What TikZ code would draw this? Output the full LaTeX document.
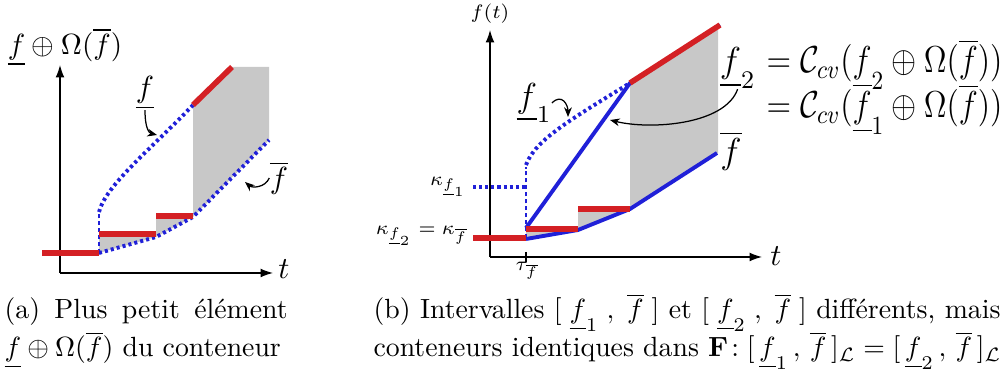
\RequirePackage{fix-cm}
\documentclass[tikz,border=0pt]{standalone}
\usepackage{amsmath,amssymb}
\usetikzlibrary{arrows.meta}
\definecolor{cred}{RGB}{212,32,36}
\definecolor{cblue}{RGB}{32,32,216}
\definecolor{cgray}{RGB}{200,200,200}
\tikzset{
 axis/.style={line width=0.45pt,-{Latex[length=4.5pt,width=3.2pt]}},
 redseg/.style={cred,line width=2pt},
 bluesolid/.style={cblue,line width=1.4pt},
 bluedot/.style={cblue,line width=1.4pt,dash pattern=on 1.1pt off 1.1pt},
 bluedash/.style={cblue,line width=0.9pt,dash pattern=on 1.6pt off 0.9pt},
 pointer/.style={line width=0.45pt,-{Stealth[length=3.5pt,width=2.8pt]}},
 bigl/.style={font=\fontsize{13}{16}\selectfont,inner sep=0pt},
 eql/.style={font=\fontsize{13.5}{16}\selectfont,inner sep=0pt,anchor=base west},
 midl/.style={font=\fontsize{11}{13}\selectfont,inner sep=0pt},
 smalll/.style={font=\fontsize{7}{8.5}\selectfont,inner sep=0pt},
 capt/.style={font=\fontsize{10}{12}\selectfont,inner sep=0pt,anchor=base west}
}
\begin{document}
\begin{tikzpicture}[x=0.36pt,y=-0.36pt]
\useasboundingbox (0,0) rectangle (1003,376);
% ---------- left figure ----------
\fill[cgray] (193,105) -- (232,67) -- (269,67) -- (269,140) -- (193,217) -- cycle;
\fill[cgray] (99,234) -- (156,234) -- (156,237) -- (99,253) -- cycle;
\fill[cgray] (156,216) -- (193,216) -- (193,217) -- (156,237) -- cycle;
\draw[axis] (60,273) -- (60,65);
\draw[axis] (60,273) -- (273,273);
\node[midl] (ta) at (284,269) {$t$};
\node[font=\fontsize{10.5}{13}\selectfont,inner sep=0pt] (ya) at (65,47) {$\underline{f}\oplus\Omega(\overline{f})$};
\draw[bluedot] (99,253) -- (156,237) -- (193,217) -- (269,140);
\draw[bluedash] (99,253) -- (99,212);
\draw[bluedot] (99,212) .. controls (106,185) and (150,150) .. (193,105);
\draw[redseg] (42,253) -- (99,253);
\draw[redseg] (99,234) -- (156,234);
\draw[redseg] (156,216) -- (193,216);
\draw[redseg] (193,105) -- (232,67);
\node[midl] (lfa) at (145,93) {$\underline{f}$};
\coordinate (pa) at (157,135);
\draw[pointer] (lfa.south) .. controls (145,128) and (149,133) .. (pa);
\node[midl] (ufa) at (279,178) {$\overline{f}$};
\coordinate (pb) at (245,182);
\draw[pointer] (ufa.west) .. controls (265,188) and (252,188) .. (pb);
% ---------- right figure ----------
\fill[cgray] (630,83) -- (718,27) -- (718,153) -- (630,209) -- cycle;
\fill[cgray] (526,229) -- (578,229) -- (578,230) -- (526,239) -- cycle;
\fill[cgray] (578,209) -- (630,209) -- (578,230) -- cycle;
\draw[axis] (490,257) -- (490,30);
\draw[axis] (490,257) -- (762,257);
\draw[line width=0.45pt] (526,252) -- (526,262);
\node[midl] (tb) at (776,256) {$t$};
\node[smalll] (yb) at (490,14) {$f(t)$};
\node[smalll] (tau) at (527,271) {$\tau_{\overline{f}}$};
\draw[bluesolid] (526,239) -- (578,230) -- (630,209) -- (717,153);
\draw[bluesolid] (526,228) -- (630,83) -- (720,25);
\draw[bluedash] (526,238) -- (526,167);
\draw[bluedot] (526,165) .. controls (535,140) and (570,120) .. (630,83);
\draw[bluedot] (473,187) -- (526,187);
\draw[redseg] (473,238) -- (526,238);
\draw[redseg] (526,229) -- (578,229);
\draw[redseg] (578,209) -- (630,209);
\draw[redseg] (630,83) -- (720,25);
\node[smalll,anchor=east] (k1) at (467,187) {$\kappa_{\underline{f}_1}$};
\node[smalll,anchor=east] (k2) at (468,236) {$\kappa_{\underline{f}_2}=\kappa_{\overline{f}}$};
\node[font=\fontsize{12.5}{15}\selectfont,inner sep=0pt] (f1) at (534,103) {$\underline{f}_1$};
\coordinate (pc) at (568,117);
\draw[pointer] (f1.east) .. controls (562,93) and (568,105) .. (pc);
\node[bigl,anchor=base east] (f2) at (756,73) {$\underline{f}_2$};
\coordinate (pd) at (610,120);
\draw[pointer] (f2.south) .. controls (725,125) and (650,130) .. (pd);
\node[bigl] (fb) at (731,151) {$\overline{f}$};
\node[eql] (eq1) at (766,73) {\scalebox{0.86}[1]{$=\mathcal{C}_{cv}(\underline{f}_2\oplus\Omega(\overline{f}))$}};
\node[eql] (eq2) at (766,118) {\scalebox{0.86}[1]{$=\mathcal{C}_{cv}(\underline{f}_1\oplus\Omega(\overline{f}))$}};
% ---------- captions ----------
\node[capt] (ca1) at (4,319) {\makebox[101.9pt][s]{(a) Plus petit élément}};
\node[capt] (ca2) at (4,357) {$\underline{f}\oplus\Omega(\overline{f})$ du conteneur};
\node[capt] (cb1) at (373,319) {\makebox[225.7pt][s]{(b) Intervalles $[\;\underline{f}_1\;,\;\overline{f}\;]$ et $[\;\underline{f}_2\;,\;\overline{f}\;]$ différents, mais}};
\node[capt] (cb2) at (373,357) {conteneurs identiques dans $\mathbf{F}\!:[\,\underline{f}_1\,,\,\overline{f}\,]_{\mathcal{L}}=[\,\underline{f}_2\,,\,\overline{f}\,]_{\mathcal{L}}$};
\end{tikzpicture}
\end{document}
